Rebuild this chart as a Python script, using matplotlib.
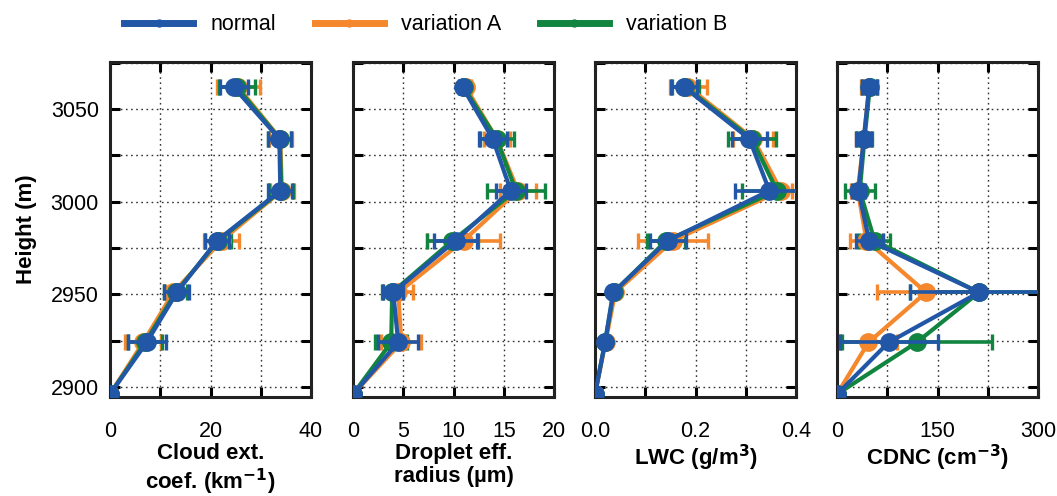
import matplotlib.pyplot as plt
import numpy as np

plt.rcParams['font.family'] = ['Liberation Sans', 'DejaVu Sans']

# heights of the profile levels (m)
height = [2896, 2924, 2951, 2979, 3006, 3034, 3062]

# cloud extinction coefficient (km^-1)
ext_normal = [0.0, 7.3, 13.3, 21.3, 33.9, 33.7, 24.6]
ext_normal_err = [0.0, 3.8, 2.5, 2.3, 2.4, 2.3, 2.8]
ext_a = [0.0, 6.6, 12.6, 22.2, 34.2, 33.9, 25.5]
ext_a_err = [0.0, 3.6, 1.6, 3.5, 2.4, 2.3, 4.3]
ext_b = [0.0, 7.0, 13.1, 21.5, 34.1, 33.8, 25.2]
ext_b_err = [0.0, 3.4, 2.3, 2.5, 2.4, 2.3, 3.6]

# droplet effective radius (um)
reff_normal = [0.0, 4.5, 4.0, 10.2, 15.7, 13.9, 10.9]
reff_normal_err = [0.0, 2.0, 1.0, 2.1, 1.5, 1.4, 0.4]
reff_a = [0.0, 4.8, 4.5, 11.0, 16.4, 14.3, 11.2]
reff_a_err = [0.0, 2.0, 1.5, 3.6, 1.8, 1.3, 0.5]
reff_b = [0.0, 3.8, 3.9, 9.9, 16.2, 14.3, 11.0]
reff_b_err = [0.0, 1.6, 1.0, 2.5, 2.9, 1.7, 0.4]

# liquid water content (g/m^3)
lwc_normal = [0.0, 0.020, 0.036, 0.145, 0.347, 0.307, 0.177]
lwc_normal_err = [0.0, 0.006, 0.006, 0.036, 0.068, 0.035, 0.026]
lwc_a = [0.0, 0.021, 0.040, 0.155, 0.370, 0.315, 0.186]
lwc_a_err = [0.0, 0.006, 0.006, 0.069, 0.022, 0.040, 0.036]
lwc_b = [0.0, 0.020, 0.037, 0.142, 0.362, 0.312, 0.180]
lwc_b_err = [0.0, 0.006, 0.006, 0.038, 0.070, 0.048, 0.026]

# cloud droplet number concentration (cm^-3)
cdnc_normal = [0.0, 77, 212, 48, 32, 40, 48]
cdnc_normal_err = [0.0, 73, 103, 20, 10, 11, 11]
cdnc_a = [0.0, 47, 133, 44, 31, 40, 48]
cdnc_a_err = [0.0, 42, 74, 24, 10, 11, 12]
cdnc_b = [0.0, 119, 212, 56, 34, 41, 49]
cdnc_b_err = [0.0, 112, 103, 23, 22, 11, 11]

series = ['normal', 'variation A', 'variation B']
colors = {'normal': '#2157a6', 'variation A': '#f5872d', 'variation B': '#118540'}

panels = [
    dict(vals={'normal': (ext_normal, ext_normal_err), 'variation A': (ext_a, ext_a_err),
               'variation B': (ext_b, ext_b_err)},
         xlim=(0, 40), major=[0, 20, 40], minor=[10, 30], fmt='{:.0f}',
         label='Cloud ext.\ncoef. (km$^{\\mathbf{-1}}$)'),
    dict(vals={'normal': (reff_normal, reff_normal_err), 'variation A': (reff_a, reff_a_err),
               'variation B': (reff_b, reff_b_err)},
         xlim=(0, 20), major=[0, 5, 10, 15, 20], minor=[], fmt='{:.0f}',
         label='Droplet eff.\nradius (µm)'),
    dict(vals={'normal': (lwc_normal, lwc_normal_err), 'variation A': (lwc_a, lwc_a_err),
               'variation B': (lwc_b, lwc_b_err)},
         xlim=(0, 0.4), major=[0.0, 0.2, 0.4], minor=[0.1, 0.3], fmt='{:.1f}',
         label='LWC (g/m$^{\\mathbf{3}}$)'),
    dict(vals={'normal': (cdnc_normal, cdnc_normal_err), 'variation A': (cdnc_a, cdnc_a_err),
               'variation B': (cdnc_b, cdnc_b_err)},
         xlim=(0, 300), major=[0, 150, 300], minor=[75, 225], fmt='{:.0f}',
         label='CDNC (cm$^{\\mathbf{-3}}$)'),
]

fig = plt.figure(figsize=(10.57, 4.96), dpi=100)
lefts = [110, 353, 595, 837]
axes = []
for i, p in enumerate(panels):
    ax = fig.add_axes([lefts[i] / 1057, 99 / 496, 201 / 1057, 335 / 496])
    axes.append(ax)
    # draw orange, green, then blue on top
    for name in ['variation A', 'variation B', 'normal']:
        x, xe = p['vals'][name]
        ax.errorbar(x, height, xerr=xe, fmt='-o', color=colors[name], lw=3.0,
                    ms=12.5, elinewidth=2.6, capsize=6, capthick=2.4, label=name,
                    zorder=3 if name == 'normal' else 2)
    ax.set_xlim(*p['xlim'])
    ax.set_ylim(2894.5, 3075.5)
    ax.set_xticks(p['major'])
    ax.set_xticklabels([p['fmt'].format(v) for v in p['major']])
    ax.set_xticks(p['minor'], minor=True)
    ax.set_yticks([2900, 2950, 3000, 3050])
    ax.set_yticks([2925, 2975, 3025, 3075], minor=True)
    ax.grid(True, which='both', linestyle=(0, (1.2, 2.5)), color='#333333', lw=1.0)
    ax.set_axisbelow(True)
    ax.tick_params(which='both', direction='in', top=True, right=True,
                   length=7, width=2.2, labelsize=15.5)
    ax.tick_params(axis='x', which='both', pad=17)
    ax.tick_params(axis='y', which='both', pad=8)
    for s in ax.spines.values():
        s.set_linewidth(2.2)
        s.set_color('#222222')
    if i > 0:
        ax.tick_params(labelleft=False)
    ax.set_xlabel(p['label'], fontsize=16, fontweight='bold', labelpad=1, linespacing=1.12)

axes[0].set_ylabel('Height (m)', fontsize=16, fontweight='bold', labelpad=10)

leg_handles = []
for s in series:
    line, = axes[0].plot([], [], '-o', color=colors[s], lw=5, ms=5)
    leg_handles.append(line)
fig.legend(leg_handles, series, loc='upper left', bbox_to_anchor=(105 / 1057, 1.01),
           ncol=3, frameon=False, fontsize=15.5, handlelength=3.2, columnspacing=1.8,
           handletextpad=0.8)

fig.savefig('out.png', dpi=100)
